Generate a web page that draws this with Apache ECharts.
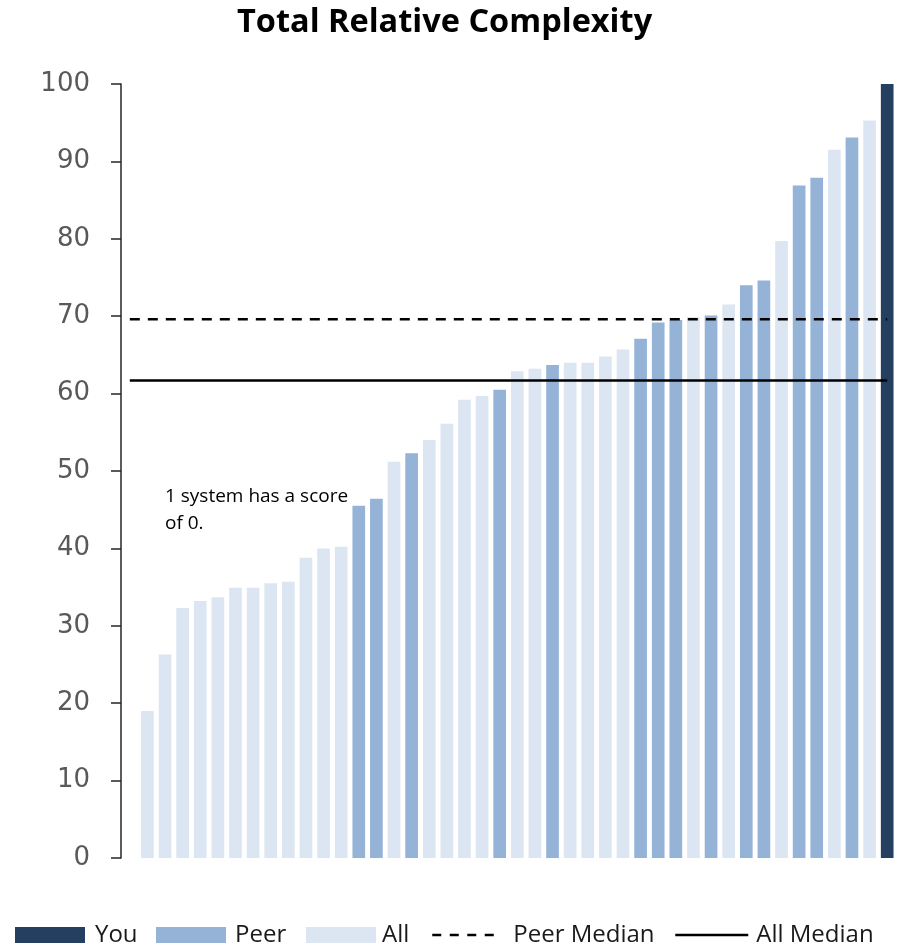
<!DOCTYPE html>
<html>
<head>
<meta charset="utf-8">
<title>Total Relative Complexity</title>
<script src="https://cdn.jsdelivr.net/npm/echarts@6/dist/echarts.min.js"></script>
<style>
  html, body { margin: 0; padding: 0; background: #ffffff; }
  #chart { width: 899px; height: 946px; }
</style>
</head>
<body>
<div id="chart"></div>
<script>
// Complexity score of each system, sorted ascending (first system scores 0)
const scores = [
  0, 19.0, 26.3, 32.3, 33.2, 33.7, 34.9, 34.9, 35.5, 35.7, 38.8, 40.0, 40.2,
  45.5, 46.4, 51.2, 52.3, 54.0, 56.1, 59.2, 59.7, 60.5, 62.9, 63.2, 63.7,
  64.0, 64.0, 64.8, 65.7, 67.1, 69.2, 69.5, 69.9, 70.1, 71.5, 74.0, 74.6,
  79.7, 86.9, 87.9, 91.5, 93.1, 95.3, 100
];
// Which group each system belongs to
const groups = [
  'All', 'All', 'All', 'All', 'All', 'All', 'All', 'All', 'All', 'All', 'All', 'All', 'All',
  'Peer', 'Peer', 'All', 'Peer', 'All', 'All', 'All', 'All', 'Peer', 'All', 'All', 'Peer',
  'All', 'All', 'All', 'All', 'Peer', 'Peer', 'Peer', 'All', 'Peer', 'All', 'Peer', 'Peer',
  'All', 'Peer', 'Peer', 'All', 'Peer', 'All', 'You'
];
const peerMedian = 69.6;
const allMedian = 61.7;
const yTicks = { min: 0, max: 100, interval: 10 };
const note = '1 system has a score\nof 0.';

const categories = scores.map((_, i) => 'System ' + (i + 1));
const pick = (g) => scores.map((v, i) => (groups[i] === g ? v : '-'));
const flat = (v) => scores.map(() => v);

const colors = { You: '#243F60', Peer: '#95B3D7', All: '#DCE6F2' };
const textFont = '"Open Sans", Lato, sans-serif';

// One legend block per entry so each sits at its own spot along the bottom row
function legendEntry(name, left, width, gap, extra) {
  return Object.assign({
    data: [name],
    left: left,
    top: 923,
    padding: 0,
    itemWidth: width,
    itemHeight: 16,
    textStyle: { fontFamily: textFont, fontSize: 24, color: '#1a1a1a', padding: [0, 0, 0, gap] }
  }, extra || {});
}

const chart = echarts.init(document.getElementById('chart'), null, { renderer: 'canvas' });

const barSeries = ['You', 'Peer', 'All'].map((g) => ({
  name: g,
  type: 'bar',
  stack: 'systems',
  data: pick(g),
  barCategoryGap: '28%',
  itemStyle: { color: colors[g] },
  emphasis: { disabled: true }
}));

chart.setOption({
  animation: false,
  title: {
    text: 'Total Relative Complexity',
    left: 232,
    top: 1,
    textStyle: { fontFamily: textFont, fontWeight: 'bold', fontSize: 32.5, color: '#000000' }
  },
  grid: { left: 121, right: 3, top: 84, bottom: 88, containLabel: false },
  xAxis: {
    type: 'category',
    data: categories,
    axisLine: { show: false },
    axisTick: { show: false },
    axisLabel: { show: false },
    splitLine: { show: false }
  },
  yAxis: {
    type: 'value',
    min: yTicks.min,
    max: yTicks.max,
    interval: yTicks.interval,
    axisLine: { show: true, lineStyle: { color: '#262626', width: 1.5 } },
    axisTick: { show: true, length: 10, lineStyle: { color: '#262626', width: 1.5 } },
    axisLabel: { margin: 31, fontFamily: '"DejaVu Sans", Verdana, sans-serif', fontSize: 26, color: '#595959' },
    splitLine: { show: false }
  },
  legend: [
    legendEntry('You', 15, 70, 5, { icon: 'rect' }),
    legendEntry('Peer', 156, 70, 4, { icon: 'rect' }),
    legendEntry('All', 306, 70, 1, { icon: 'rect' }),
    legendEntry('Peer Median', 431, 66, 10, {
      itemStyle: { opacity: 0 },
      lineStyle: { width: 2.5, type: [9, 8.5] }
    }),
    legendEntry('All Median', 674, 73, 3, {
      itemStyle: { opacity: 0 },
      lineStyle: { width: 2.5 }
    })
  ],
  graphic: [
    {
      type: 'text',
      left: 165,
      top: 483,
      style: {
        text: note,
        fontFamily: textFont,
        fontSize: 19,
        lineHeight: 27,
        fill: '#000000'
      }
    }
  ],
  series: barSeries.concat([
    {
      name: 'Peer Median',
      type: 'line',
      data: flat(peerMedian),
      symbol: 'none',
      silent: true,
      lineStyle: { color: '#000000', width: 2.5, type: [10, 8] },
      itemStyle: { color: '#000000' },
      z: 5
    },
    {
      name: 'All Median',
      type: 'line',
      data: flat(allMedian),
      symbol: 'none',
      silent: true,
      lineStyle: { color: '#000000', width: 2.5, type: 'solid' },
      itemStyle: { color: '#000000' },
      z: 5
    }
  ])
});
</script>
</body>
</html>
